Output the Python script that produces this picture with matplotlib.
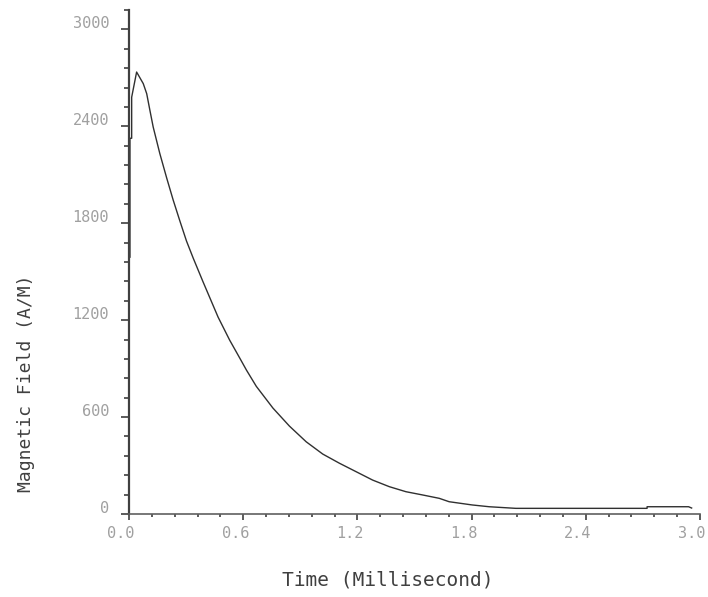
import matplotlib
matplotlib.use("Agg")
import matplotlib.pyplot as plt
import matplotlib.transforms as mtrans
from matplotlib.ticker import MultipleLocator

# values (time in ms, field in A/M)
time_ms = [0.005, 0.005, 0.014, 0.014, 0.040, 0.075, 0.093, 0.110, 0.127, 0.162,
           0.198, 0.232, 0.267, 0.302, 0.337, 0.388, 0.468, 0.529, 0.582, 0.617,
           0.669, 0.756, 0.843, 0.931, 1.018, 1.106, 1.193, 1.280, 1.368,
           1.455, 1.542, 1.630, 1.682, 1.803, 1.892, 2.032, 2.722, 2.722, 2.940,
           2.956]
field = [1590, 2326, 2326, 2580, 2736, 2664, 2602, 2498, 2396, 2231,
         2080, 1944, 1815, 1690, 1585, 1440, 1219, 1076, 965, 891,
         790, 656, 544, 447, 371, 314, 262, 210, 169,
         138, 118, 97, 76, 56, 45, 35, 35, 45, 45,
         37]

x_ticks = [0.0, 0.6, 1.2, 1.8, 2.4, 3.0]
y_ticks = [0, 600, 1200, 1800, 2400, 3000]

fig = plt.figure(figsize=(7.08, 5.97), dpi=100)
ax = fig.add_axes([129 / 708, 1 - 514 / 597, (700 - 129) / 708, (514 - 10) / 597])

ax.plot(time_ms, field, color="#303030", lw=1.0)

ax.set_xlim(0, 3.0)
ax.set_ylim(0, 3120)
ax.set_xticks(x_ticks)
ax.set_yticks(y_ticks)
ax.set_xticklabels(["%.1f" % v for v in x_ticks])
ax.set_yticklabels([str(v) for v in y_ticks])
ax.xaxis.set_minor_locator(MultipleLocator(0.12))
ax.yaxis.set_minor_locator(MultipleLocator(120))

for side in ["top", "right"]:
    ax.spines[side].set_visible(False)
ax.spines["left"].set_color("#404040")
ax.spines["left"].set_linewidth(1.6)
ax.spines["bottom"].set_color("#606060")
ax.spines["bottom"].set_linewidth(1.2)

ax.tick_params(axis="y", which="major", length=5.8, width=1.2, color="#404040",
               pad=8.6, labelsize=11, labelcolor="#a0a0a0")
ax.tick_params(axis="y", which="minor", length=3.6, width=1.2, color="#404040")
ax.tick_params(axis="x", which="major", length=4.3, width=1.2, color="#404040",
               pad=4.3, labelsize=11, labelcolor="#a0a0a0")
ax.tick_params(axis="x", which="minor", length=2.2, width=1.2, color="#404040")

for lab in ax.get_xticklabels() + ax.get_yticklabels():
    lab.set_fontfamily("DejaVu Sans Mono")

# labels sit a little left / up of their ticks in the original
dx = mtrans.ScaledTranslation(-0.08, 0, fig.dpi_scale_trans)
dy = mtrans.ScaledTranslation(0, 0.07, fig.dpi_scale_trans)
for lab in ax.get_xticklabels():
    lab.set_transform(lab.get_transform() + dx)
for lab in ax.get_yticklabels():
    lab.set_transform(lab.get_transform() + dy)

fig.text(388 / 708, 1 - 580 / 597, "Time (Millisecond)", ha="center", va="center",
         fontsize=14, family="DejaVu Sans Mono", color="#404040")
fig.text(26 / 708, 1 - 383 / 597, "Magnetic Field (A/M)", ha="center", va="center",
         rotation=90, fontsize=13, family="DejaVu Sans Mono", color="#404040")

fig.savefig("out.png", dpi=100)
